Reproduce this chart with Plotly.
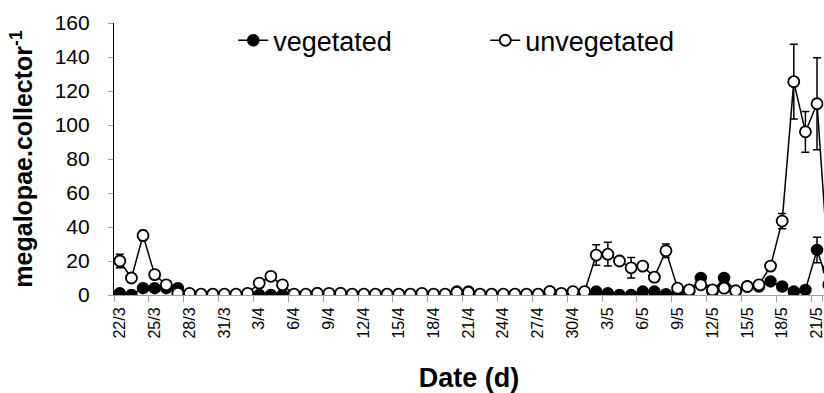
import pandas as pd
import plotly.graph_objects as go

# ---- data ----
dates = pd.date_range("2005-03-22", "2005-05-22", freq="D")
categories = [f"{d.day}/{d.month}" for d in dates]

vegetated = [1, 0, 4, 4, 4, 4, 0.5, 0, 0, 0, 0, 0.5, 0, 0, 0, 0, 0, 1, 0.5, 1,
             0, 0, 0, 0, 0, 0, 0.5, 0, 0, 2, 2, 0, 0, 0, 0, 0, 0, 2, 0.5, 1.5,
             1, 2, 1, 0, 0, 2, 2, 0.5, 1, 2, 10, 2, 10, 2, 5, 5, 8, 5, 2, 3,
             26.5, 6]
vegetated_err = [None, None, 1, 1, 1.5, 2, None, None, None, None, None, None, None, None, None, None,
                 None, None, None, None, None, None, None, None, None, None, None, None, None, None,
                 None, None, None, None, None, None, None, None, None, None, None, None, None, None,
                 None, None, None, None, None, None, 2, None, 1.5, None, None, None, 1, None, None, None,
                 7.5, None]

unvegetated = [20, 10, 35, 12, 6, 1, 1, 0.5, 0.5, 0.5, 0.5, 1, 7, 11, 6, 0.5, 0.5, 1, 1, 1,
               0.5, 0.5, 0.5, 0.5, 0.5, 0.5, 1, 0.5, 0.5, 1.5, 1.5, 0.5, 0.5, 0.5, 0.5, 0.5, 0.5, 2, 1, 2,
               2, 23.5, 24, 20, 16, 17, 10.5, 26, 4, 3, 6, 3, 4, 2.5, 5, 6, 17, 43.5, 125.5, 96,
               112.5, 15]
unvegetated_err = [4, None, 3, None, 1, None, None, None, None, None, None, None, None, 2, None, None,
                   None, None, None, None, None, None, None, None, None, None, None, None, None, None,
                   None, None, None, None, None, None, None, None, None, None, None, 6, 7, 2, 6, None,
                   None, 4, None, None, None, None, None, None, None, None, None, 4.5, 22, 12, 27, None]

tick_labels = categories[::3]
y_ticks = [0, 20, 40, 60, 80, 100, 120, 140, 160]

FONT = "Arial, Liberation Sans, sans-serif"

fig = go.Figure()
fig.add_trace(go.Scatter(
    x=categories, y=vegetated, name="vegetated", mode="lines+markers",
    line=dict(color="black", width=1.5),
    marker=dict(symbol="circle", size=11, color="black", line=dict(color="black", width=1.5)),
    error_y=dict(type="data", array=vegetated_err, visible=True, color="black", thickness=1.5, width=4),
))
fig.add_trace(go.Scatter(
    x=categories, y=unvegetated, name="unvegetated", mode="lines+markers",
    line=dict(color="black", width=1.5),
    marker=dict(symbol="circle", size=11, color="white", line=dict(color="black", width=1.8)),
    error_y=dict(type="data", array=unvegetated_err, visible=True, color="black", thickness=1.5, width=4),
))

fig.update_layout(
    width=824, height=393,
    margin=dict(l=114, r=0, t=23, b=98, autoexpand=False),
    plot_bgcolor="white", paper_bgcolor="white",
    font=dict(family=FONT, color="black"),
    showlegend=True,
    legend=dict(orientation="h", x=0.168, y=0.935, xanchor="left", yanchor="middle",
                font=dict(size=27, family=FONT), bgcolor="rgba(0,0,0,0)",
                entrywidth=207, entrywidthmode="pixels", traceorder="normal"),
)
fig.update_xaxes(
    type="category", categoryorder="array", categoryarray=categories,
    range=[-0.5, 60.6], automargin=False,
    tickmode="array", tickvals=tick_labels, ticktext=tick_labels,
    tickson="boundaries", ticks="outside", ticklen=6, tickcolor="#a0a0a0", tickwidth=1,
    tickangle=-90, tickfont=dict(size=16, family=FONT), ticklabelstandoff=5,
    showgrid=False, showline=True, linecolor="#a0a0a0", linewidth=1,
    zeroline=False,
    title=dict(text="<b>Date (d)</b>", font=dict(size=27, family=FONT), standoff=34),
)
fig.update_yaxes(
    range=[0, 160], automargin=False, tickmode="array", tickvals=y_ticks,
    ticks="outside", ticklen=5, tickcolor="#a0a0a0", tickwidth=1,
    tickfont=dict(size=21, family=FONT), ticklabelstandoff=14,
    showgrid=False, showline=True, linecolor="black", linewidth=1.2, zeroline=False,
    title=dict(text="<b>megalopae.collector<sup>-1</sup></b>", font=dict(size=25, family=FONT), standoff=14),
)

fig.write_html("out.html", config={"displayModeBar": False},
               post_script="document.body.style.margin='0';document.body.style.overflow='hidden';")
